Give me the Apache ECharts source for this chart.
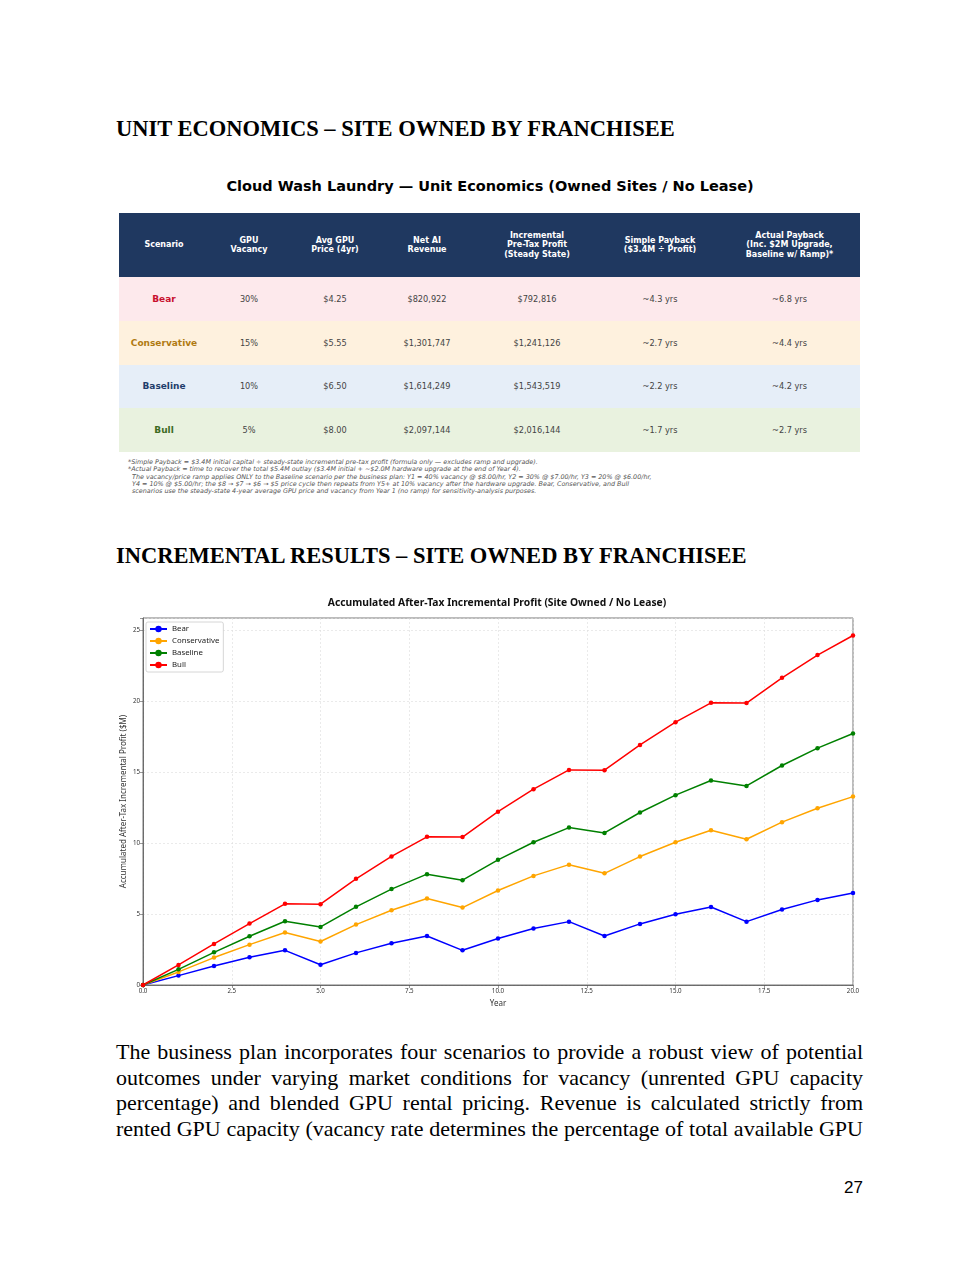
<!DOCTYPE html>
<html>
<head>
<meta charset="utf-8">
<title>Unit Economics - Site Owned by Franchisee</title>
<script src="https://cdn.jsdelivr.net/npm/echarts@6/dist/echarts.min.js"></script>
<style>
  html, body { margin: 0; padding: 0; background: #fff; }
  body { width: 980px; height: 1268px; position: relative; overflow: hidden; }
  .h1 {
    position: absolute; left: 116px; font-family: "Liberation Serif", serif;
    font-weight: bold; font-size: 22.5px; line-height: 1; color: #000; white-space: nowrap;
  }
  .table_title {
    position: absolute; left: 0; width: 980px; top: 179px; text-align: center;
    font-family: "DejaVu Sans", sans-serif; font-weight: bold; font-size: 14.5px; line-height: 1; color: #000;
  }
  table.econ {
    position: absolute; left: 119px; top: 213px; width: 741px; border-collapse: collapse;
    table-layout: fixed; font-family: "DejaVu Sans", sans-serif;
  }
  table.econ th {
    background: #1f3860; color: #fff; font-size: 8px; font-weight: bold; height: 64px;
    padding: 0; text-align: center; line-height: 9.5px;
  }
  table.econ td {
    height: 43.75px; padding: 0; text-align: center; font-size: 8.2px; color: #444; white-space: nowrap;
  }
  table.econ td.name { font-weight: bold; font-size: 9px; }
  .notes {
    position: absolute; left: 128px; top: 459px; font-family: "DejaVu Sans", sans-serif;
    font-style: italic; font-size: 6.4px; line-height: 7.3px; color: #555; white-space: nowrap;
  }
  .notes .ind { padding-left: 4px; }
  #chart { position: absolute; left: 7px; top: 580px; width: 980px; height: 440px; }
  .para {
    position: absolute; left: 116px; top: 1039px; width: 747px; font-family: "Liberation Serif", serif;
    font-size: 22px; line-height: 25.6px; color: #000;
  }
  .para div { text-align: justify; text-align-last: justify; white-space: nowrap; }
  .pageno {
    position: absolute; right: 117px; top: 1178px; font-family: "Liberation Sans", sans-serif;
    font-size: 17px; line-height: 20px; color: #000;
  }
</style>
</head>
<body>
<div class="h1" style="top:118px">UNIT ECONOMICS – SITE OWNED BY FRANCHISEE</div>
<div class="table_title">Cloud Wash Laundry — Unit Economics (Owned Sites / No Lease)</div>
<table class="econ" id="econ"></table>
<div class="notes" id="notes"></div>
<div class="h1" style="top:545px">INCREMENTAL RESULTS – SITE OWNED BY FRANCHISEE</div>
<div id="chart"></div>
<div class="para" id="para"></div>
<div class="pageno">27</div>

<script>
// table data
const headers = ["Scenario", "GPU<br>Vacancy", "Avg GPU<br>Price (4yr)", "Net AI<br>Revenue",
  "Incremental<br>Pre-Tax Profit<br>(Steady State)", "Simple Payback<br>($3.4M ÷ Profit)",
  "Actual Payback<br>(Inc. $2M Upgrade,<br>Baseline w/ Ramp)*"];
const colWidths = [90, 80, 92, 92, 128, 118, 141];
const scenarios = ["Bear", "Conservative", "Baseline", "Bull"];
const vacancy = ["30%", "15%", "10%", "5%"];
const avgPrice = ["$4.25", "$5.55", "$6.50", "$8.00"];
const netRevenue = ["$820,922", "$1,301,747", "$1,614,249", "$2,097,144"];
const incProfit = ["$792,816", "$1,241,126", "$1,543,519", "$2,016,144"];
const simplePayback = ["~4.3 yrs", "~2.7 yrs", "~2.2 yrs", "~1.7 yrs"];
const actualPayback = ["~6.8 yrs", "~4.4 yrs", "~4.2 yrs", "~2.7 yrs"];
const rowColors = ["#fde9ec", "#fef1de", "#e6eef8", "#e9f2df"];
const nameColors = ["#c8102e", "#b07a12", "#1f3d6b", "#3d6b1f"];

const notes = [
  "*Simple Payback = $3.4M initial capital ÷ steady-state incremental pre-tax profit (formula only — excludes ramp and upgrade).",
  "*Actual Payback = time to recover the total $5.4M outlay ($3.4M initial + ~$2.0M hardware upgrade at the end of Year 4).",
  "The vacancy/price ramp applies ONLY to the Baseline scenario per the business plan: Y1 = 40% vacancy @ $8.00/hr, Y2 = 30% @ $7.00/hr, Y3 = 20% @ $6.00/hr,",
  "Y4 = 10% @ $5.00/hr; the $8 → $7 → $6 → $5 price cycle then repeats from Y5+ at 10% vacancy after the hardware upgrade. Bear, Conservative, and Bull",
  "scenarios use the steady-state 4-year average GPU price and vacancy from Year 1 (no ramp) for sensitivity-analysis purposes."
];

const paraLines = [
  "The business plan incorporates four scenarios to provide a robust view of potential",
  "outcomes under varying market conditions for vacancy (unrented GPU capacity",
  "percentage) and blended GPU rental pricing. Revenue is calculated strictly from",
  "rented GPU capacity (vacancy rate determines the percentage of total available GPU"
];

// chart data (accumulated after-tax incremental profit, $M)
const years = [0, 1, 2, 3, 4, 5, 6, 7, 8, 9, 10, 11, 12, 13, 14, 15, 16, 17, 18, 19, 20];
const bear = [0, 0.66, 1.34, 1.95, 2.44, 1.43, 2.26, 2.94, 3.45, 2.44, 3.27, 3.97, 4.46, 3.45, 4.30, 4.98, 5.49, 4.46, 5.31, 5.99, 6.48];
const conservative = [0, 0.92, 1.93, 2.84, 3.69, 3.06, 4.25, 5.26, 6.09, 5.45, 6.65, 7.68, 8.47, 7.86, 9.04, 10.05, 10.89, 10.26, 11.46, 12.44, 13.26];
const baseline = [0, 1.10, 2.30, 3.43, 4.49, 4.09, 5.50, 6.75, 7.80, 7.38, 8.81, 10.05, 11.08, 10.70, 12.14, 13.36, 14.39, 14.01, 15.45, 16.67, 17.70];
const bull = [0, 1.41, 2.89, 4.32, 5.71, 5.69, 7.47, 9.05, 10.43, 10.41, 12.20, 13.78, 15.14, 15.12, 16.90, 18.50, 19.86, 19.84, 21.62, 23.22, 24.60];
const xTicks = [0, 2.5, 5, 7.5, 10, 12.5, 15, 17.5, 20];
const yTicks = [0, 5, 10, 15, 20, 25];

// build table
let html = "<colgroup>" + colWidths.map(w => `<col style="width:${w}px">`).join("") + "</colgroup>";
html += "<tr>" + headers.map(h => `<th>${h}</th>`).join("") + "</tr>";
for (let i = 0; i < scenarios.length; i++) {
  html += `<tr style="background:${rowColors[i]}">` +
    `<td class="name" style="color:${nameColors[i]}">${scenarios[i]}</td>` +
    `<td>${vacancy[i]}</td><td>${avgPrice[i]}</td><td>${netRevenue[i]}</td>` +
    `<td>${incProfit[i]}</td><td>${simplePayback[i]}</td><td>${actualPayback[i]}</td></tr>`;
}
document.getElementById("econ").innerHTML = html;
document.getElementById("notes").innerHTML =
  notes.map((n, i) => `<div class="${i > 1 ? "ind" : ""}">${n}</div>`).join("");
document.getElementById("para").innerHTML = paraLines.map(l => `<div>${l}</div>`).join("");

// chart
const chart = echarts.init(document.getElementById("chart"), null, { renderer: "canvas" });
const font = "Noto Sans";
function mkSeries(name, color, vals) {
  return {
    name: name,
    type: "line",
    data: years.map((y, i) => [y, vals[i]]),
    symbol: "circle",
    symbolSize: 4.5,
    itemStyle: { color: color },
    lineStyle: { color: color, width: 1.5 },
    emphasis: { disabled: true },
  };
}
chart.setOption({
  animation: false,
  textStyle: { fontFamily: font },
  title: {
    text: "Accumulated After-Tax Incremental Profit (Site Owned / No Lease)",
    left: "center",
    top: 13,
    textStyle: { fontFamily: font, fontSize: 10.3, fontWeight: "bold", color: "#111" },
  },
  legend: {
    orient: "vertical",
    left: 139,
    top: 42,
    padding: [3, 4, 3, 3],
    itemGap: 4,
    itemWidth: 17,
    itemHeight: 8,
    backgroundColor: "#fff",
    borderColor: "#ccc",
    borderWidth: 0.8,
    borderRadius: 2,
    textStyle: { fontFamily: font, fontSize: 7.8, color: "#222", padding: [0, 0, 0, 0] },
    data: ["Bear", "Conservative", "Baseline", "Bull"],
  },
  grid: {
    left: 136, right: 134, top: 38, bottom: 35,
    show: true, borderColor: "#555", borderWidth: 0.8, backgroundColor: "transparent",
  },
  xAxis: {
    type: "value",
    min: 0, max: 20, interval: 2.5,
    name: "Year", nameLocation: "middle", nameGap: 15,
    nameTextStyle: { fontFamily: font, fontSize: 8, color: "#333" },
    axisLine: { show: true, lineStyle: { color: "#555", width: 0.8 } },
    axisTick: { show: true, length: 3, lineStyle: { color: "#555", width: 0.6 } },
    axisLabel: {
      fontFamily: font, fontSize: 6.2, color: "#333", margin: 3,
      formatter: v => (xTicks.indexOf(v) >= 0 ? v.toFixed(1) : ""),
    },
    splitLine: { show: true, lineStyle: { color: "#dddddd", type: [2, 2], width: 0.6 } },
  },
  yAxis: {
    type: "value",
    min: 0, max: 25.83, interval: 5,
    name: "Accumulated After-Tax Incremental Profit ($M)", nameLocation: "middle", nameGap: 15,
    nameMoveOverlap: false,
    nameTextStyle: { fontFamily: font, fontSize: 8, color: "#333" },
    axisLine: { show: true, lineStyle: { color: "#555", width: 0.8 } },
    axisTick: { show: true, length: 3, lineStyle: { color: "#555", width: 0.6 } },
    axisLabel: {
      fontFamily: font, fontSize: 6.2, color: "#333", margin: 3,
      formatter: v => (yTicks.indexOf(v) >= 0 ? String(v) : ""),
    },
    splitLine: { show: true, lineStyle: { color: "#dddddd", type: [2, 2], width: 0.6 } },
  },
  series: [
    mkSeries("Bear", "#0000ff", bear),
    mkSeries("Conservative", "#ffa500", conservative),
    mkSeries("Baseline", "#008000", baseline),
    mkSeries("Bull", "#ff0000", bull),
  ],
});
</script>
</body>
</html>
